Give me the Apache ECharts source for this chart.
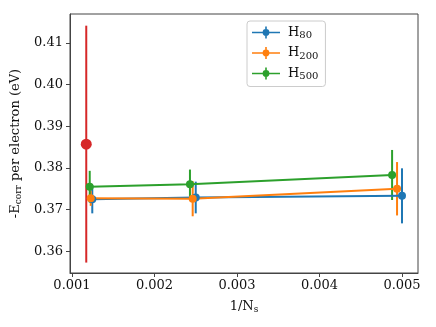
<!DOCTYPE html>
<html><head><meta charset="utf-8">
<script src="https://cdn.jsdelivr.net/npm/echarts@6/dist/echarts.min.js"></script>
<style>html,body{margin:0;padding:0;background:#fff}#c{width:436px;height:327px}</style>
</head><body><div id="c"></div>
<script>
// Data
var xBlue = [0.001246, 0.0025, 0.005];
var yBlue = [0.3725, 0.3729, 0.3733];
var eBlue = [0.0034, 0.0038, 0.0066];

var xOrange = [0.001227, 0.002463, 0.00494];
var yOrange = [0.3727, 0.3726, 0.3750];
var eOrange = [0.0018, 0.0042, 0.0064];

var xGreen = [0.001215, 0.00243, 0.00488];
var yGreen = [0.3755, 0.3761, 0.3783];
var eGreen = [0.0038, 0.0035, 0.0060];

var xRed = [0.001173];
var yRed = [0.3857];
var eRed = [0.0284];

var xTicks = [0.001, 0.002, 0.003, 0.004, 0.005];
var yTicks = [0.36, 0.37, 0.38, 0.39, 0.40, 0.41];

var names = ['H80', 'H200', 'H500'];
var colors = ['#1f77b4', '#ff7f0e', '#2ca02c', '#d62728'];

function pts(xs, ys) { return xs.map(function (x, i) { return [x, ys[i]]; }); }
function errs(xs, ys, es) { return xs.map(function (x, i) { return [x, ys[i] - es[i], ys[i] + es[i]]; }); }

function errSeries(xs, ys, es, color) {
  return {
    type: 'custom',
    name: 'err_' + color,
    data: errs(xs, ys, es),
    encode: { x: 0, y: [1, 2] },
    z: 2,
    renderItem: function (params, api) {
      var p1 = api.coord([api.value(0), api.value(1)]);
      var p2 = api.coord([api.value(0), api.value(2)]);
      return { type: 'line', shape: { x1: p1[0], y1: p1[1], x2: p2[0], y2: p2[1] },
               style: { stroke: color, lineWidth: 2 } };
    }
  };
}
function lineSeries(name, xs, ys, color, size) {
  return {
    type: 'line', name: name, data: pts(xs, ys), z: 3,
    symbol: 'circle', symbolSize: size, showSymbol: true,
    lineStyle: { color: color, width: 2 }, itemStyle: { color: color },
    emphasis: { disabled: true }
  };
}

var serif = 'DejaVu Serif';
var icon = 'path://M0,5.2h28v1.6h-28Z M13.2,0h1.6v12h-1.6Z M14,2.6a3.4,3.4 0 1,1 -0.001,0Z';

var chart = echarts.init(document.getElementById('c'), null, { renderer: 'canvas' });
chart.setOption({
  animation: false,
  backgroundColor: '#fff',
  grid: { left: 70, right: 18, top: 14, bottom: 54, show: true, borderColor: '#444', borderWidth: 1 },
  xAxis: {
    type: 'value', min: 0.000976, max: 0.005194,
    splitLine: { show: false },
    axisLine: { show: true, onZero: false, lineStyle: { color: '#444', width: 1 } },
    axisTick: { show: true, length: 4, lineStyle: { color: '#444' }, customValues: xTicks },
    axisLabel: { customValues: xTicks, fontFamily: serif, fontSize: 13, color: '#111', margin: 6,
                 formatter: function (v) { return v.toFixed(3); } },
    name: '1/N{s|s}', nameLocation: 'middle', nameGap: 26,
    nameTextStyle: { fontFamily: serif, fontSize: 13, color: '#111',
                     rich: { s: { fontFamily: serif, fontSize: 9, color: '#111', verticalAlign: 'bottom', padding: [6, 0, 0, 0] } } }
  },
  yAxis: {
    type: 'value', min: 0.3548, max: 0.4169,
    splitLine: { show: false },
    axisLine: { show: true, onZero: false, lineStyle: { color: '#444', width: 1 } },
    axisTick: { show: true, length: 4, lineStyle: { color: '#444' }, customValues: yTicks },
    axisLabel: { customValues: yTicks, fontFamily: serif, fontSize: 13, color: '#111', margin: 7,
                 formatter: function (v) { return v.toFixed(2); } },
    name: '-E{s|corr} per electron (eV)', nameLocation: 'middle', nameGap: 42, nameRotate: 90,
    nameTextStyle: { fontFamily: serif, fontSize: 13, color: '#111',
                     rich: { s: { fontFamily: serif, fontSize: 9, color: '#111', padding: [6, 0, 0, 0] } } }
  },
  legend: {
    orient: 'vertical', left: 247, top: 21,
    data: names,
    itemWidth: 28, itemHeight: 12, itemGap: 6,
    backgroundColor: '#fff', borderColor: '#ccc', borderWidth: 1, borderRadius: 3,
    padding: [5, 7, 5, 5],
    icon: icon,
    formatter: function (n) { return 'H{s|' + n.slice(1) + '}'; },
    textStyle: { fontFamily: serif, fontSize: 13, color: '#111', padding: [0, 0, 0, 3],
                 rich: { s: { fontFamily: serif, fontSize: 10, color: '#111', padding: [6, 0, 0, 0] } } }
  },
  series: [
    errSeries(xBlue, yBlue, eBlue, colors[0]),
    lineSeries(names[0], xBlue, yBlue, colors[0], 8),
    errSeries(xOrange, yOrange, eOrange, colors[1]),
    lineSeries(names[1], xOrange, yOrange, colors[1], 8),
    errSeries(xGreen, yGreen, eGreen, colors[2]),
    lineSeries(names[2], xGreen, yGreen, colors[2], 8),
    errSeries(xRed, yRed, eRed, colors[3]),
    lineSeries('red', xRed, yRed, colors[3], 11)
  ]
});
</script></body></html>
